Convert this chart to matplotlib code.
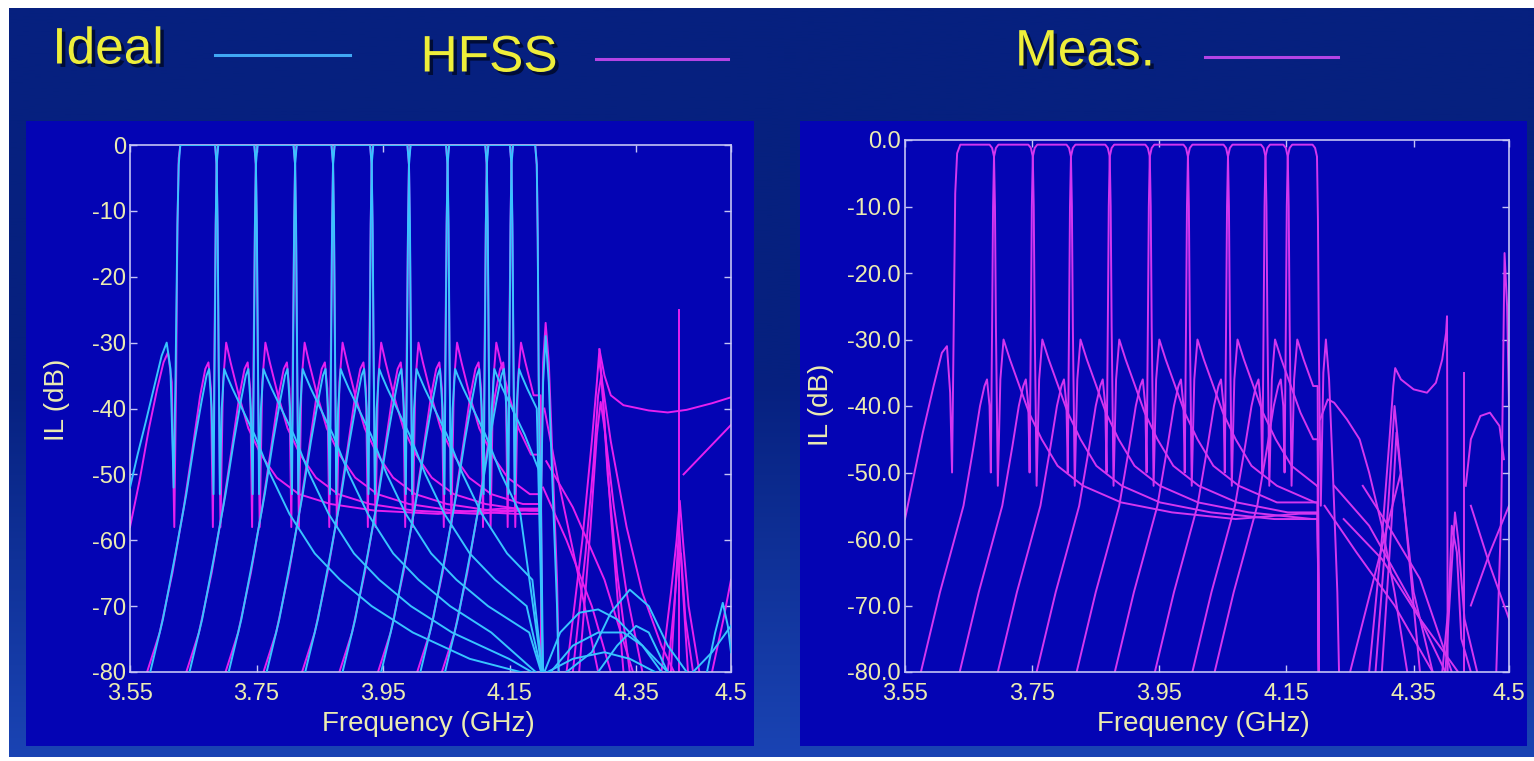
import numpy as np
import matplotlib
matplotlib.use('Agg')
import matplotlib.pyplot as plt
import matplotlib.patheffects as pe
from matplotlib.patches import Rectangle
from matplotlib.lines import Line2D
from matplotlib.colors import LinearSegmentedColormap

# ---------------- data ----------------
freq_ticks = [3.55, 3.75, 3.95, 4.15, 4.35, 4.5]
freq_tick_labels = ['3.55', '3.75', '3.95', '4.15', '4.35', '4.5']
il_ticks = [0, -10, -20, -30, -40, -50, -60, -70, -80]
il_labels_left = ['0', '-10', '-20', '-30', '-40', '-50', '-60', '-70', '-80']
il_labels_right = ['0.0', '-10.0', '-20.0', '-30.0', '-40.0', '-50.0', '-60.0', '-70.0', '-80.0']

# channel band edges (GHz), 10 contiguous channels
edges_left = [3.627, 3.687, 3.749, 3.811, 3.871, 3.932, 3.991, 4.052, 4.114, 4.153, 4.193]
edges_right = [3.630, 3.690, 3.751, 3.811, 3.872, 3.935, 3.995, 4.058, 4.117, 4.152, 4.198]
cliff_f = 4.199

# Ideal (cyan) skirt points: offset from band edge (GHz), level (dB)
ideal_lo_df = [-0.105, -0.085, -0.065, -0.048, -0.035, -0.024, -0.016, -0.012, -0.008, -0.005, -0.003, -0.0015, 0.0, 0.0025]
ideal_lo_db = [-80, -72, -62, -53, -45, -39, -35, -34, -40, -53, -30, -12, -3, 0]
ideal_up_df = [-0.0025, 0.0, 0.0015, 0.003, 0.005, 0.008, 0.012, 0.016, 0.025, 0.04, 0.06, 0.085, 0.115,
               0.155, 0.195, 0.245, 0.31, 0.40, 0.50, 0.60]
ideal_up_db = [0, -3, -12, -30, -53, -40, -34, -35, -37, -40, -44, -50, -56, -62, -66, -70, -74, -78, -80.5, -84]
ideal_first_lo_f = [3.55, 3.562, 3.575, 3.59, 3.60, 3.608, 3.614, 3.619, 3.622, 3.625, 3.627, 3.6295]
ideal_first_lo_db = [-52, -47, -42, -36, -32, -30, -34, -52, -35, -12, -3, 0]
ideal_last_up_df = [-0.0025, 0.0, 0.0015, 0.003, 0.006, 0.010, 0.014, 0.019, 0.025, 0.032, 0.038]
ideal_last_up_db = [0, -3, -14, -35, -58, -36, -29, -36, -52, -70, -95]

# HFSS (magenta, left)
hfss_lo_df = [-0.11, -0.09, -0.07, -0.052, -0.038, -0.026, -0.018, -0.013, -0.009, -0.006, -0.004, -0.0015, 0.0, 0.0025]
hfss_lo_db = [-80, -74, -65, -55, -46, -38, -34, -33, -37, -58, -35, -12, -2, 0]
hfss_up_df = [-0.0025, 0.0, 0.0015, 0.003, 0.006, 0.010, 0.015, 0.022, 0.035, 0.05, 0.07, 0.095, 0.13, 0.18,
              0.25, 0.35, 0.45, 0.60]
hfss_up_db = [0, -3, -14, -32, -58, -36, -30, -33, -38, -43, -47, -50.5, -53, -54.5, -55.5, -56, -55.2, -56.8]
hfss_first_lo_f = [3.55, 3.565, 3.58, 3.593, 3.603, 3.61, 3.616, 3.62, 3.623, 3.625, 3.627, 3.6295]
hfss_first_lo_db = [-58, -51, -43, -37, -33, -31.5, -36, -58, -35, -12, -2, 0]
hfss_last_up_df = [-0.0025, 0.0, 0.0015, 0.003, 0.006, 0.010, 0.014, 0.019, 0.025, 0.032, 0.038]
hfss_last_up_db = [0, -3, -14, -35, -60, -33, -27, -33, -48, -66, -95]

# Measured (magenta, right)
meas_lo_df = [-0.115, -0.085, -0.065, -0.048, -0.032, -0.022, -0.015, -0.011, -0.007, -0.005, -0.003, -0.0015, 0.0, 0.003, 0.007]
meas_lo_db = [-80, -68, -61, -55, -46, -40, -37, -36, -40, -50, -28, -10, -2.5, -1.2, -0.7]
meas_up_df = [-0.007, -0.003, 0.0, 0.0015, 0.003, 0.006, 0.010, 0.015, 0.025, 0.04, 0.055, 0.075, 0.1, 0.14,
              0.2, 0.28, 0.38, 0.48, 0.60]
meas_up_db = [-0.7, -1.2, -2.5, -10, -28, -52, -36, -30, -33, -37, -41, -45, -49, -52, -54.5, -56, -57, -56.2, -57.8]
meas_first_lo_f = [3.55, 3.565, 3.578, 3.595, 3.608, 3.616, 3.621, 3.624, 3.627, 3.629, 3.632, 3.637]
meas_first_lo_db = [-57, -50, -44, -37, -32, -31, -38, -50, -25, -8, -2, -0.7]
meas_last_up_df = [-0.007, -0.003, 0.0, 0.0015, 0.003, 0.006, 0.010, 0.014, 0.019, 0.025, 0.032, 0.038]
meas_last_up_db = [-0.7, -1.2, -2.5, -12, -32, -55, -35, -30, -36, -50, -68, -95]

# Features above 4.2 GHz (f list, dB list)
ideal_tails = [
    ([4.205, 4.23, 4.26, 4.29, 4.32, 4.35, 4.38, 4.40], [-80, -74, -71, -70.5, -72, -75, -78, -80]),
    ([4.215, 4.25, 4.29, 4.33, 4.36, 4.39], [-80, -76, -74, -74, -76, -80]),
    ([4.24, 4.28, 4.31, 4.34, 4.37, 4.40, 4.43], [-80, -77, -71, -67.5, -70, -76, -80]),
    ([4.29, 4.32, 4.35, 4.37, 4.40], [-80, -76, -73, -74, -80]),
    ([4.21, 4.25, 4.30, 4.34, 4.38], [-80, -78, -77, -78, -80]),
    ([4.462, 4.475, 4.487, 4.495, 4.5], [-80, -74, -69.5, -73, -77]),
    ([4.44, 4.47, 4.5], [-80, -77, -73]),
]
hfss_tails = [
    ([4.24, 4.265, 4.28, 4.288, 4.292, 4.296, 4.305, 4.32, 4.34], [-80, -60, -45, -36, -31, -36, -50, -65, -80]),
    ([4.25, 4.27, 4.283, 4.29, 4.295, 4.30, 4.31, 4.33], [-80, -62, -48, -38, -35, -42, -56, -80]),
    ([4.26, 4.278, 4.288, 4.294, 4.30, 4.315, 4.335, 4.36], [-80, -58, -44, -39, -43, -55, -68, -80]),
    ([4.292, 4.30, 4.31, 4.33, 4.37, 4.40, 4.43, 4.47, 4.5], [-31, -35, -38, -39.5, -40.3, -40.6, -40.2, -39.2, -38.3]),
    ([4.292, 4.31, 4.335, 4.36, 4.39, 4.41], [-33, -45, -58, -68, -76, -80]),
    ([4.4185, 4.4185], [-25, -80]),
    ([4.39, 4.405, 4.414, 4.419, 4.424, 4.433, 4.45], [-80, -68, -60, -54, -60, -70, -80]),
    ([4.40, 4.41, 4.417, 4.421, 4.428, 4.44], [-80, -70, -62, -62, -72, -80]),
    ([4.405, 4.413, 4.418, 4.423, 4.432], [-80, -66, -58, -66, -80]),
    ([4.425, 4.46, 4.5], [-50, -46.5, -42.5]),
    ([4.47, 4.488, 4.5], [-80, -72, -66]),
    ([4.203, 4.24, 4.28, 4.31], [-52, -60, -70, -80]),
    ([4.208, 4.25, 4.30, 4.345], [-48, -55, -66, -80]),
    ([4.205, 4.225, 4.26, 4.29], [-40, -50, -66, -80]),
]
meas_tails = [
    ([4.203, 4.215, 4.225, 4.245, 4.265, 4.28, 4.30, 4.32, 4.34], [-42, -39, -39.5, -42, -45, -50, -58, -68, -80]),
    ([4.28, 4.30, 4.312, 4.318, 4.321, 4.33, 4.35, 4.371, 4.385, 4.395, 4.401, 4.4025, 4.403, 4.4035],
     [-80, -60, -45, -37, -34.3, -36, -37.5, -38, -36.5, -33, -29, -26.5, -45, -80]),
    ([4.29, 4.31, 4.32, 4.33, 4.36], [-80, -55, -40, -50, -80]),
    ([4.30, 4.315, 4.323, 4.335, 4.35, 4.38], [-80, -58, -44, -55, -68, -80]),
    ([4.43, 4.43], [-35, -80]),
    ([4.432, 4.44, 4.455, 4.47, 4.485, 4.492], [-52, -45, -41.5, -41, -43, -48]),
    ([4.48, 4.488, 4.493, 4.497, 4.5], [-80, -55, -17, -25, -40]),
    ([4.44, 4.47, 4.5], [-70, -62, -55]),
    ([4.44, 4.47, 4.5], [-55, -64, -72]),
    ([4.21, 4.26, 4.32, 4.38], [-55, -62, -70, -80]),
    ([4.225, 4.28, 4.35, 4.40], [-52, -58, -70, -80]),
    ([4.24, 4.30, 4.36, 4.42], [-57, -63, -72, -80]),
    ([4.25, 4.29, 4.33], [-80, -65, -50]),
    ([4.40, 4.41, 4.415, 4.42, 4.43, 4.45], [-80, -64, -56, -60, -72, -80]),
    ([4.395, 4.405, 4.41, 4.418, 4.425, 4.44], [-80, -70, -58, -62, -75, -80]),
    ([4.27, 4.31, 4.36, 4.41], [-52, -58, -66, -80]),
]

# ---------------- styling ----------------
FIG_W, FIG_H = 1534, 761
BG_TOP = '#06207f'
BG_BOT = '#1a44b4'
PANEL = '#0404b4'
SPINE = '#c4c4f4'
TICKLBL = '#ececb0'
YELLOW = '#eeee3a'
CYAN = '#38c4ff'
HFSS_C = '#e620f0'
MEAS_C = '#d436f0'
FONT = 'Liberation Sans'

plt.rcParams['font.family'] = [FONT, 'DejaVu Sans']

fig = plt.figure(figsize=(FIG_W / 100, FIG_H / 100), dpi=100)

# gradient background
bg = fig.add_axes([0, 0, 1, 1], zorder=-10)
grad = np.linspace(0, 1, 256).reshape(-1, 1)
cmap = LinearSegmentedColormap.from_list('bg', [BG_TOP, BG_TOP, BG_BOT])
bg.imshow(grad, aspect='auto', cmap=cmap, extent=[0, 1, 0, 1], origin='upper')
bg.set_xlim(0, 1); bg.set_ylim(0, 1); bg.axis('off')


def px_rect(x0, y0, x1, y1, color, z=-5):
    fig.patches.append(Rectangle((x0 / FIG_W, 1 - y1 / FIG_H), (x1 - x0) / FIG_W, (y1 - y0) / FIG_H,
                                 transform=fig.transFigure, facecolor=color, edgecolor='none', zorder=z))


# white border strips
px_rect(0, 0, FIG_W, 8, 'white', z=-4)
px_rect(0, 0, 9, FIG_H, 'white', z=-4)
px_rect(0, 757, FIG_W, FIG_H, 'white', z=-4)
# panel backgrounds
px_rect(26, 121, 754, 746, PANEL)
px_rect(800, 121, 1527, 746, PANEL)


def make_ax(x0, y0, x1, y1, ylabels):
    ax = fig.add_axes([x0 / FIG_W, 1 - y1 / FIG_H, (x1 - x0) / FIG_W, (y1 - y0) / FIG_H])
    ax.set_facecolor(PANEL)
    ax.set_xlim(3.55, 4.5)
    ax.set_ylim(-80, 0)
    ax.set_xticks(freq_ticks)
    ax.set_xticklabels(freq_tick_labels)
    ax.set_yticks(il_ticks)
    ax.set_yticklabels(ylabels)
    for s in ax.spines.values():
        s.set_color(SPINE)
        s.set_linewidth(1.2)
    ax.tick_params(direction='in', length=5, width=1, color=SPINE, labelcolor=TICKLBL,
                   labelsize=17, top=True, right=True)
    ax.tick_params(axis='x', pad=8)
    ax.tick_params(axis='y', pad=3)
    return ax


axL = make_ax(130, 145, 731, 672, il_labels_left)
axR = make_ax(905, 140, 1509, 672, il_labels_right)


def channel_curves(edges, lo_df, lo_db, up_df, up_db, first_f, first_db, last_df, last_db, hold):
    curves = []
    n = len(edges) - 1
    for k in range(n):
        a, b = edges[k], edges[k + 1]
        if k == 0:
            f = list(first_f); d = list(first_db)
        else:
            f = [a + x for x in lo_df]; d = list(lo_db)
        if k == n - 1:
            f += [b + x for x in last_df]; d += list(last_db)
        else:
            uf = [b + x for x in up_df]
            keep = [i for i, v in enumerate(uf) if v <= cliff_f]
            f += [uf[i] for i in keep]; d += [up_db[i] for i in keep]
            if uf[-1] > cliff_f:
                if hold:
                    # level held up to the common cut-off, then the drop
                    f += [cliff_f, cliff_f + 0.003]; d += [d[-1], -95]
                else:
                    # skirts converge to the floor at the cut-off
                    f += [cliff_f + 0.004]; d += [-81]
        curves.append((f, d))
    return curves


hfss_curves = channel_curves(edges_left, hfss_lo_df, hfss_lo_db, hfss_up_df, hfss_up_db,
                             hfss_first_lo_f, hfss_first_lo_db, hfss_last_up_df, hfss_last_up_db, True)
ideal_curves = channel_curves(edges_left, ideal_lo_df, ideal_lo_db, ideal_up_df, ideal_up_db,
                              ideal_first_lo_f, ideal_first_lo_db, ideal_last_up_df, ideal_last_up_db, False)
meas_curves = channel_curves(edges_right, meas_lo_df, meas_lo_db, meas_up_df, meas_up_db,
                             meas_first_lo_f, meas_first_lo_db, meas_last_up_df, meas_last_up_db, True)

LW = 1.4
for f, d in hfss_curves:
    axL.plot(f, d, color=HFSS_C, lw=LW, zorder=2)
for f, d in hfss_tails:
    axL.plot(f, d, color=HFSS_C, lw=LW, zorder=2)
for f, d in ideal_curves:
    axL.plot(f, d, color=CYAN, lw=LW, zorder=3)
for f, d in ideal_tails:
    axL.plot(f, d, color=CYAN, lw=LW, zorder=3)
for f, d in meas_curves:
    axR.plot(f, d, color=MEAS_C, lw=LW, zorder=2)
for f, d in meas_tails:
    axR.plot(f, d, color=MEAS_C, lw=LW, zorder=2)

# axis labels
lab_kw = dict(color=TICKLBL, fontsize=20, ha='center', va='center')
fig.text(57 / FIG_W, 1 - 400 / FIG_H, 'IL (dB)', rotation=90, **lab_kw)
fig.text(821 / FIG_W, 1 - 405 / FIG_H, 'IL (dB)', rotation=90, **lab_kw)
fig.text(428 / FIG_W, 1 - 724 / FIG_H, 'Frequency (GHz)', **lab_kw)
fig.text(1203 / FIG_W, 1 - 724 / FIG_H, 'Frequency (GHz)', **lab_kw)

# legend
shadow = [pe.withSimplePatchShadow(offset=(2.5, -2.5), shadow_rgbFace='#000a30', alpha=0.9)]
leg_kw = dict(color=YELLOW, fontsize=37, ha='center', va='center', path_effects=shadow)
fig.text(108 / FIG_W, 1 - 50 / FIG_H, 'Ideal', **leg_kw)
fig.text(489 / FIG_W, 1 - 58 / FIG_H, 'HFSS', **leg_kw)
fig.text(1085 / FIG_W, 1 - 52 / FIG_H, 'Meas.', **leg_kw)


def leg_line(x0, x1, y, color):
    fig.lines.append(Line2D([x0 / FIG_W, x1 / FIG_W], [1 - y / FIG_H, 1 - y / FIG_H],
                            transform=fig.transFigure, color=color, lw=2.2))


leg_line(215, 350, 55, '#40a8f4')
leg_line(596, 728, 59, '#b444e4')
leg_line(1205, 1338, 57, '#b444e4')

fig.savefig('out.png', dpi=100, facecolor=BG_TOP)
